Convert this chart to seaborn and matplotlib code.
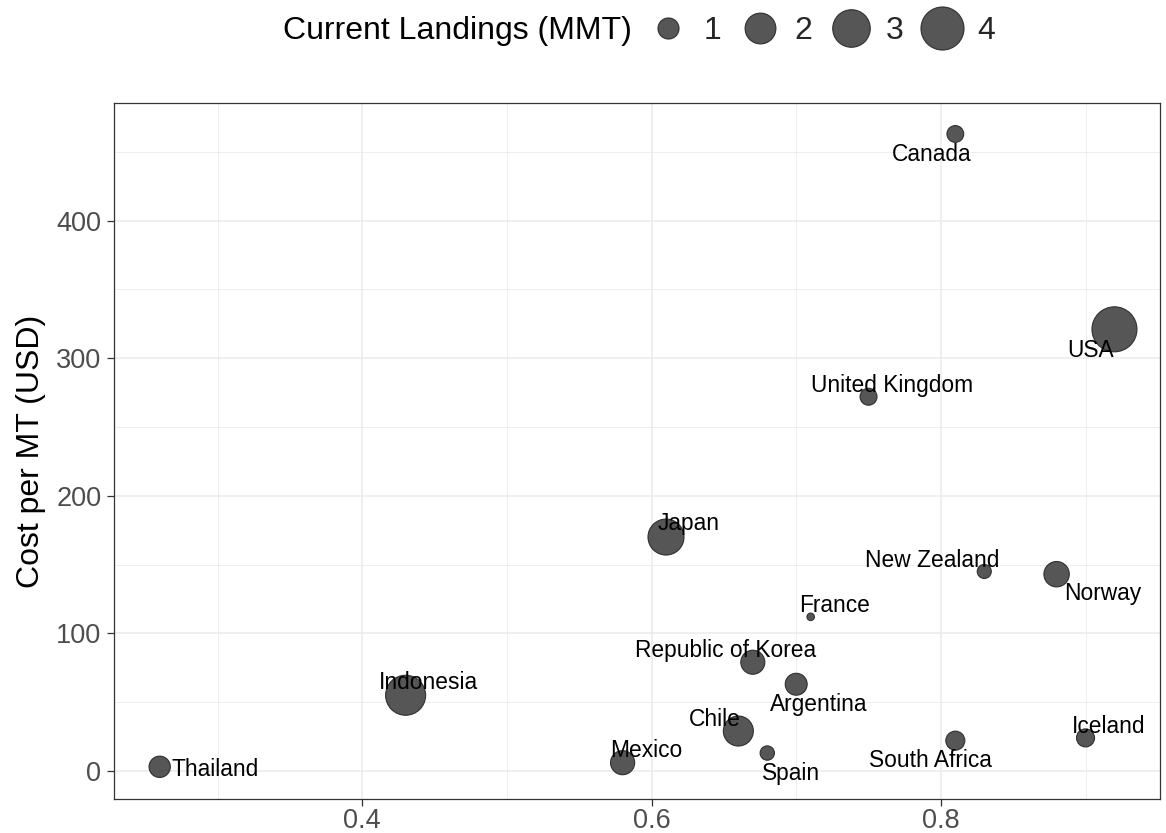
import numpy as np
import pandas as pd
import seaborn as sns
import matplotlib.pyplot as plt
from matplotlib.lines import Line2D
from matplotlib.ticker import MultipleLocator

# Values
countries = ["Canada", "USA", "United Kingdom", "Japan", "New Zealand", "Norway",
             "France", "Republic of Korea", "Argentina", "Chile", "Mexico", "Spain",
             "South Africa", "Iceland", "Indonesia", "Thailand"]
ratio = [0.81, 0.92, 0.75, 0.61, 0.83, 0.88, 0.71, 0.67, 0.70, 0.66, 0.58, 0.68,
         0.81, 0.90, 0.43, 0.26]
cost_per_mt = [463, 321, 272, 170, 145, 143, 112, 79, 63, 29, 6, 13, 22, 24, 55, 3]
landings = [0.73, 4.40, 0.74, 2.75, 0.61, 1.38, 0.49, 1.25, 1.07, 1.90, 1.26, 0.62,
            0.86, 0.80, 3.43, 1.02]
legend_levels = [1, 2, 3, 4]

# label offsets from the point (pixels, right / up)
label_offsets = {
    "Canada": (-24, -21), "USA": (-24, -21), "United Kingdom": (24, 11),
    "Japan": (23, 14), "New Zealand": (-52, 11), "Norway": (46, -19),
    "France": (24, 11), "Republic of Korea": (-27, 12), "Argentina": (23, -20),
    "Chile": (-24, 12), "Mexico": (24, 12), "Spain": (24, -20),
    "South Africa": (-25, -20), "Iceland": (23, 11), "Indonesia": (23, 13),
}

PX = 0.72  # points per pixel at dpi 100
LAND_MIN, LAND_MAX = min(landings), max(landings)


def landing_diameter(v):
    """Marker diameter in points, ggplot-style area scale (range 1..6)."""
    frac = np.clip((v - LAND_MIN) / (LAND_MAX - LAND_MIN), 0, 1)
    return (7.5 + 37.5 * np.sqrt(frac)) * PX


df = pd.DataFrame({"country": countries, "ratio": ratio,
                   "cost": cost_per_mt, "landings": landings})
size_lookup = {v: landing_diameter(v) ** 2 for v in df["landings"].unique()}

sns.set_theme(style="whitegrid")
plt.rcParams["font.family"] = ["Liberation Sans", "DejaVu Sans"]

fig, ax = plt.subplots(figsize=(11.66, 8.33), dpi=100)
fig.subplots_adjust(left=0.098, right=0.995, bottom=0.041, top=0.876)

point_color = "#4d4d4d"
sns.scatterplot(data=df, x="ratio", y="cost", size="landings", sizes=size_lookup,
                color=point_color, edgecolor="#2b2b2b", linewidth=0.8, alpha=0.95,
                legend=False, ax=ax, zorder=3)

for name, x, y in zip(countries, ratio, cost_per_mt):
    if name == "Thailand":
        ax.annotate(name, (x, y), xytext=(12 * PX, -3 * PX), textcoords="offset points",
                    ha="left", va="center", fontsize=16.4, color="black", zorder=4)
        continue
    dx, dy = label_offsets[name]
    ax.annotate(name, (x, y), xytext=(dx * PX, dy * PX), textcoords="offset points",
                ha="center", va="center", fontsize=16.4, color="black", zorder=4)

ax.set_xlim(0.2286, 0.9516)
ax.set_ylim(-20.3, 485.3)
ax.xaxis.set_major_locator(MultipleLocator(0.2))
ax.xaxis.set_minor_locator(MultipleLocator(0.1))
ax.yaxis.set_major_locator(MultipleLocator(100))
ax.yaxis.set_minor_locator(MultipleLocator(50))

ax.grid(which="major", color="#ebebeb", linewidth=1.1)
ax.grid(which="minor", color="#ebebeb", linewidth=0.6)
ax.set_axisbelow(True)
for spine in ax.spines.values():
    spine.set_color("#333333")
    spine.set_linewidth(0.9)

ax.tick_params(axis="both", which="major", length=4.8, width=0.9, color="#333333",
               labelsize=19.5, labelcolor="#4d4d4d", bottom=True, left=True)
ax.tick_params(axis="y", which="major", pad=4.5)
ax.tick_params(axis="x", which="major", pad=2)
ax.tick_params(which="minor", length=0)
ax.set_xlabel("")
ax.set_ylabel("Cost per MT (USD)", fontsize=23, color="black", labelpad=7)

# legend on top: title text + size keys
fig.text(632 / 1166, 1 - 31 / 833, "Current Landings (MMT)", ha="right", va="center",
         fontsize=23, color="black")
handles = [Line2D([], [], linestyle="none", marker="o", markersize=landing_diameter(v),
                  markerfacecolor=point_color, markeredgecolor="#2b2b2b",
                  markeredgewidth=0.8, alpha=0.95) for v in legend_levels]
fig.legend(handles, [str(v) for v in legend_levels], loc="center left",
           bbox_to_anchor=(646 / 1166, 1 - 31 / 833), ncol=4, frameon=False,
           fontsize=23, handlelength=1.4, handletextpad=0.4, columnspacing=0.5,
           borderpad=0, borderaxespad=0)

fig.savefig("out.png", dpi=100)
